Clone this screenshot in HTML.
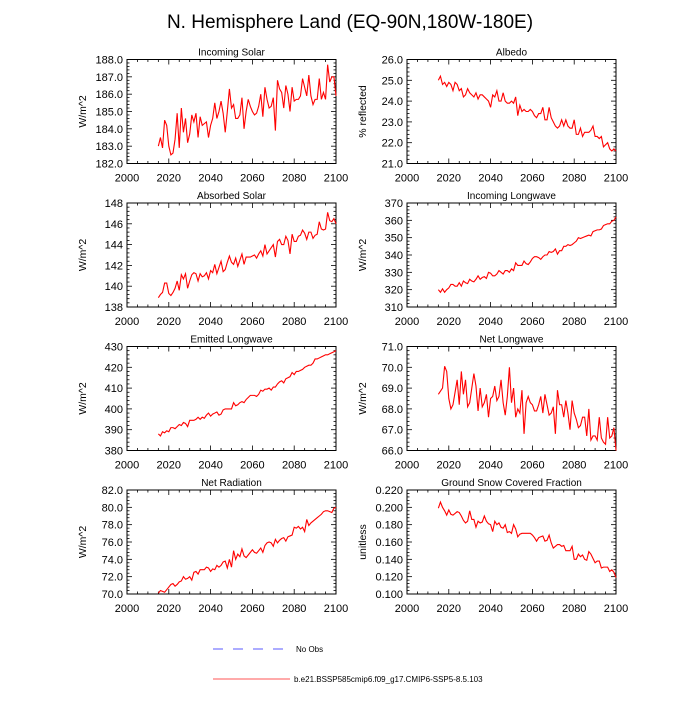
<!DOCTYPE html>
<html><head><meta charset="utf-8"><style>
body{margin:0;background:#fff}
svg text{font-family:"Liberation Sans",sans-serif;fill:#000}
</style></head><body>
<svg id="c" width="700" height="700" viewBox="0 0 700 700" xmlns="http://www.w3.org/2000/svg">
<text x="350" y="28" text-anchor="middle" font-size="19">N. Hemisphere Land (EQ-90N,180W-180E)</text>
<line x1="213" y1="649" x2="288" y2="649" stroke="#5a5aff" stroke-width="1" stroke-dasharray="10,10"/>
<text x="296" y="652" font-size="8">No Obs</text>
<line x1="213" y1="679" x2="290" y2="679" stroke="#f55" stroke-width="1"/>
<text x="294" y="682" font-size="8">b.e21.BSSP585cmip6.f09_g17.CMIP6-SSP5-8.5.103</text>
</svg>
<script>
const startYear = 2015;
const xTicks = [2000,2020,2040,2060,2080,2100];
const incomingSolar = [183.0,183.5,182.9,184.5,184.2,183.0,182.5,182.6,183.4,184.9,182.9,185.2,183.8,184.6,183.2,183.7,184.8,184.4,184.9,183.5,184.7,184.2,184.3,184.4,183.5,184.2,184.6,185.5,184.6,185.0,185.6,184.9,183.8,185.0,186.3,185.2,185.4,184.6,184.6,184.8,185.8,184.0,185.0,185.7,185.3,185.0,184.8,184.9,185.3,186.0,184.7,186.4,185.7,185.2,185.3,185.8,183.9,186.8,186.3,186.1,185.2,186.5,186.0,185.0,186.4,185.6,185.7,185.7,185.9,186.9,186.4,185.9,187.1,185.9,185.4,185.7,185.7,186.9,185.7,186.1,185.7,187.7,186.7,187.0,187.0,185.9];
const albedo = [25.0,25.2,24.8,24.9,24.7,24.9,24.8,24.5,24.9,24.8,24.5,24.6,24.2,24.3,24.6,24.4,24.3,24.2,24.4,24.1,24.3,24.3,24.2,24.1,24.0,23.7,24.3,24.2,24.5,24.0,24.0,24.4,24.0,23.9,23.9,24.0,23.9,24.2,23.3,23.8,23.5,23.6,23.5,23.5,23.6,23.5,23.3,23.2,23.4,23.4,23.7,23.1,23.1,23.7,23.2,23.0,22.8,22.7,22.8,23.1,22.8,23.1,22.8,22.7,22.7,23.1,22.4,22.4,22.7,22.3,22.5,22.5,22.5,22.6,22.8,22.3,22.3,22.2,22.3,21.8,21.9,22.0,21.7,21.6,21.7,21.6];
const absorbedSolar = [138.9,139.2,139.4,140.3,140.3,139.3,139.1,139.4,139.8,140.5,139.6,141.1,140.7,141.2,139.8,140.5,141.1,141.3,141.2,140.5,141.2,140.9,141.0,141.3,140.7,141.5,141.3,142.1,141.2,141.8,142.4,141.4,141.6,142.3,142.9,142.3,142.1,142.7,141.9,142.5,143.1,142.1,142.8,142.8,142.8,142.9,143.0,142.7,143.1,143.4,142.9,144.0,143.1,143.4,143.7,144.0,142.8,144.3,144.5,144.0,144.0,144.8,144.4,143.1,145.0,144.3,144.3,144.8,144.9,145.4,145.1,144.5,145.2,145.2,144.6,144.9,145.0,146.2,145.5,145.4,145.5,147.1,146.3,146.2,146.5,146.0];
const incomingLW = [320,318.5,320.5,318.5,320,321,323,323,322,322,324,322,325,324,323.5,326,325,324.5,326,328,326,327,327.5,326.5,330,329.5,328,328,329,331,330,329,331,331,330,332,331,335.5,334,334,334,336.5,335,334.5,336,338,339,339,338.5,337.5,339,340,340,342,341.5,342,343.5,340.5,342.5,342.5,345,345,346,345.5,346,347,348,350,349.5,350,350.5,351,351.5,351,353.5,354,354.5,354.5,355,357,357.5,358,358,359.5,360,362];
const emittedLW = [388,387,389,388.5,389.5,389,391,391,390.5,391.5,392.5,392,393.5,393,391.5,394.5,394.5,394.5,395,396,395,396,395.5,397,398,396.5,397.5,398,398.5,397,397.5,399.5,400,400,400,400,403,401.5,402,403,403.5,403,404.5,405.5,406.5,406.5,406.5,406,407,409,408.5,409.5,409.5,410,409,410.5,410.5,412,413,413.5,412.5,414.5,415,415.5,417.5,416.5,418,418,418.5,419,420,420.5,421,421,422,424,424,424.5,425,425.5,426,426,426.5,427,427.5,428];
const netLW = [68.7,68.85,69.0,70.05,69.8,68.5,68.0,68.2,68.8,69.4,68.2,69.8,68.7,69.4,68.1,68.3,69.0,69.7,69.1,67.9,69.0,68.1,68.3,68.7,67.6,68.5,68.6,69.1,68.4,68.6,69.4,68.3,67.7,68.6,70.0,68.3,69.0,67.6,68.0,67.8,68.9,66.8,68.3,68.6,68.3,68.2,67.9,67.9,68.2,68.6,67.8,68.7,68.2,67.7,67.8,68.1,66.8,68.9,68.2,68.2,67.6,68.4,67.8,67.0,68.4,67.8,67.5,67.1,67.2,67.6,67.6,66.7,68.0,66.5,66.7,66.7,66.5,67.6,66.6,66.4,66.3,67.6,66.6,66.7,67.1,66.0];
const netRadiation = [70.1,70.4,70.3,70.2,70.5,70.8,71.1,71.2,70.9,71.1,71.4,71.5,72.0,71.7,71.8,72.0,71.6,72.5,72.6,72.3,72.8,72.8,72.8,73.1,73.0,72.6,72.9,72.8,73.3,73.1,73.3,73.7,73.8,73.0,74.0,73.1,75.0,74.0,74.6,74.3,75.2,74.4,74.2,74.5,74.8,75.1,74.8,74.7,75.0,75.3,74.8,75.6,75.9,76.0,75.9,75.5,76.3,75.9,76.2,76.4,76.5,76.1,76.6,76.7,76.8,77.7,77.6,77.8,77.5,77.7,77.2,78.6,77.9,78.2,78.4,78.6,78.8,79.0,79.2,79.5,79.6,79.6,79.5,79.4,79.9,80.0];
const snowFraction = [.199,.206,.200,.196,.191,.197,.192,.191,.193,.195,.194,.190,.185,.182,.184,.196,.186,.186,.177,.184,.182,.183,.190,.184,.181,.180,.172,.184,.180,.182,.177,.176,.180,.171,.172,.170,.180,.175,.166,.169,.170,.170,.170,.170,.170,.168,.165,.161,.165,.166,.167,.161,.162,.168,.159,.153,.155,.157,.157,.155,.156,.150,.150,.150,.155,.140,.140,.146,.143,.145,.140,.139,.149,.146,.141,.136,.138,.138,.130,.131,.131,.131,.126,.128,.125,.119];
const panelTitles = ["Incoming Solar","Albedo","Absorbed Solar","Incoming Longwave","Emitted Longwave","Net Longwave","Net Radiation","Ground Snow Covered Fraction"];
const yTitles = ["W/m^2","% reflected","W/m^2","W/m^2","W/m^2","W/m^2","W/m^2","unitless"];
const yMins = [182,21,138,310,380,66,70,0.1];
const yMaxs = [188,26,148,370,430,71,82,0.22];
const yStepsMajor = [1,1,2,10,10,1,2,0.02];
const yDecimals = [1,1,0,0,0,1,1,3];
const series = [incomingSolar,albedo,absorbedSolar,incomingLW,emittedLW,netLW,netRadiation,snowFraction];

const svg = document.getElementById('c');
const NS = 'http://www.w3.org/2000/svg';
function mk(tag, attrs){const e=document.createElementNS(NS,tag);for(const k in attrs)e.setAttribute(k,attrs[k]);svg.appendChild(e);return e;}
const colX=[127,407], rowY=[59.5,203,346.5,490], W=209, H=104;
const slug=s=>s.toLowerCase().replace(/[^a-z0-9]+/g,'-').replace(/-$/,'');
series.forEach((data,i)=>{
  const L=colX[i%2], T=rowY[Math.floor(i/2)];
  const name=slug(panelTitles[i]);
  const xs=v=>L+(v-2000)/100*W;
  const ys=v=>T+H-(v-yMins[i])/(yMaxs[i]-yMins[i])*H;
  const frame=mk('rect',{x:L,y:T,width:W,height:H,fill:'none',stroke:'#000','stroke-width':1});
  
  
  const t=mk('text',{x:L+W/2,y:T-4,'text-anchor':'middle','font-size':10});
  t.textContent=panelTitles[i];
  
  
  const yt=mk('text',{x:0,y:0,'text-anchor':'middle','font-size':10.5,transform:`translate(${L-41},${T+H/2}) rotate(-90)`});
  yt.textContent=yTitles[i];
  
  
  for(let yr=2000; yr<=2100; yr+=5){
    const major = yr%20===0, len = major?5:2.5, x=xs(yr);
    mk('line',{x1:x,y1:T+H,x2:x,y2:T+H-len,stroke:'#000','stroke-width':0.8});
    mk('line',{x1:x,y1:T,x2:x,y2:T+len,stroke:'#000','stroke-width':0.8});
  }
  xTicks.forEach(v=>{
    const lb=mk('text',{x:xs(v),y:T+H+18,'text-anchor':'middle','font-size':11});
    lb.textContent=String(v);
    
    
  });
  const st=yStepsMajor[i], nMaj=Math.round((yMaxs[i]-yMins[i])/st);
  for(let k=0;k<=nMaj*5;k++){
    const v=yMins[i]+k*st/5, y=ys(v), len=k%5===0?5:2.5;
    mk('line',{x1:L,y1:y,x2:L+len,y2:y,stroke:'#000','stroke-width':0.8});
    mk('line',{x1:L+W,y1:y,x2:L+W-len,y2:y,stroke:'#000','stroke-width':0.8});
  }
  for(let k=0;k<=nMaj;k++){
    const v=yMins[i]+k*st;
    const lb=mk('text',{x:L-4,y:ys(v)+4,'text-anchor':'end','font-size':11});
    lb.textContent=v.toFixed(yDecimals[i]);
    
    
  }
  const pts=data.map((v,j)=>xs(startYear+j).toFixed(2)+','+ys(v).toFixed(2)).join(' ');
  const pl=mk('polyline',{points:pts,fill:'none',stroke:'#f00','stroke-width':1.1});
  
  
});
</script>
</body></html>
